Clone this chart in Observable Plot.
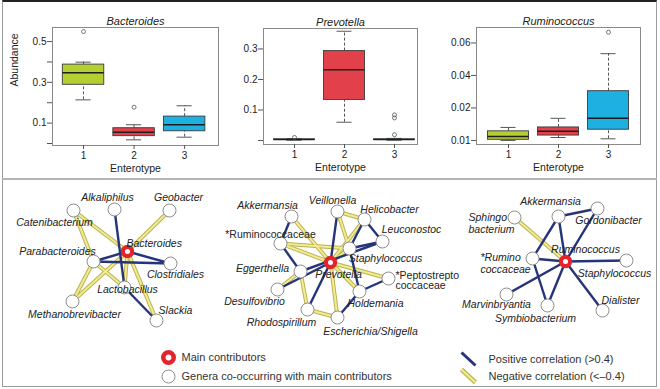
<!DOCTYPE html>
<html><head><meta charset="utf-8">
<script src="https://cdn.jsdelivr.net/npm/d3@7"></script>
<script src="https://cdn.jsdelivr.net/npm/@observablehq/plot@0.6"></script>
<style>
body{margin:0;background:#fff;}
#fig{position:relative;width:660px;height:389px;overflow:hidden;font-family:"Liberation Sans",Arial,Helvetica,sans-serif;background:#fff;}
.line{position:absolute;}
</style></head><body><div id="fig"></div>
<script>
// ---------- Box plot data ----------
const enterotypes = [1, 2, 3];
const enterotypeColors = ["#b4cf31", "#e2404a", "#1fb0e2"];

const bacteroidesLow    = [0.214, 0.018, 0.031];
const bacteroidesQ1     = [0.288, 0.036, 0.060];
const bacteroidesMedian = [0.347, 0.055, 0.092];
const bacteroidesQ3     = [0.387, 0.075, 0.132];
const bacteroidesHigh   = [0.399, 0.092, 0.185];
const bacteroidesOutliers = [[1, 0.549], [2, 0.178]];
const bacteroidesTicks = [0, 0.1, 0.2, 0.3, 0.4, 0.5];
const bacteroidesTickLabels = ["", "0.1", "", "0.3", "", "0.5"];

const prevotellaLow    = [0.001, 0.060, 0.001];
const prevotellaQ1     = [0.002, 0.133, 0.002];
const prevotellaMedian = [0.003, 0.232, 0.003];
const prevotellaQ3     = [0.004, 0.293, 0.004];
const prevotellaHigh   = [0.006, 0.358, 0.007];
const prevotellaOutliers = [[1, 0.010], [3, 0.084], [3, 0.074], [3, 0.019]];
const prevotellaTicks = [0, 0.1, 0.2, 0.3];
const prevotellaTickLabels = ["", "0.1", "0.2", "0.3"];

const ruminococcusLow    = [0.0100, 0.0109, 0.0105];
const ruminococcusQ1     = [0.0102, 0.0115, 0.0133];
const ruminococcusMedian = [0.0112, 0.0128, 0.0168];
const ruminococcusQ3     = [0.0128, 0.0140, 0.0303];
const ruminococcusHigh   = [0.0140, 0.0168, 0.0534];
const ruminococcusOutliers = [[3, 0.0666]];
const ruminococcusTicks = [0.01, 0.02, 0.04, 0.06];
const ruminococcusTickLabels = ["0.01", "0.02", "0.04", "0.06"];

// ---------- Network data (layout coordinates) ----------
const net1Nodes = [
  ["Bacteroides", 127, 71, "main"],
  ["Alkaliphilus", 114, 29], ["Geobacter", 169, 30], ["Catenibacterium", 73, 30],
  ["Parabacteroides", 93, 81], ["Clostridiales", 170, 83], ["Lactobacillus", 124, 107],
  ["Methanobrevibacter", 72, 121], ["Slackia", 156, 140]
];
const net1Edges = [
  ["Catenibacterium", "Bacteroides", "-"], ["Catenibacterium", "Parabacteroides", "-"],
  ["Geobacter", "Bacteroides", "-"], ["Alkaliphilus", "Lactobacillus", "+"],
  ["Bacteroides", "Parabacteroides", "+"], ["Bacteroides", "Clostridiales", "+"],
  ["Parabacteroides", "Clostridiales", "+"], ["Parabacteroides", "Lactobacillus", "-"],
  ["Methanobrevibacter", "Parabacteroides", "-"], ["Methanobrevibacter", "Bacteroides", "-"],
  ["Bacteroides", "Slackia", "-"], ["Bacteroides", "Lactobacillus", "-"],
  ["Lactobacillus", "Slackia", "+"]
];
const net1Labels = [
  ["Bacteroides", 126, 62, "start"], ["Alkaliphilus", 107, 17, "middle"],
  ["Geobacter", 178, 17, "middle"], ["Catenibacterium", 54, 42, "middle"],
  ["Parabacteroides", 57, 71, "middle"], ["Clostridiales", 175, 94, "middle"],
  ["Lactobacillus", 127, 109, "middle"], ["Methanobrevibacter", 74, 134, "middle"],
  ["Slackia", 175, 130, "middle"]
];

const net2Nodes = [
  ["Prevotella", 330, 82, "main"],
  ["Akkermansia", 291, 36], ["Veillonella", 337, 31], ["Helicobacter", 364, 39],
  ["Leuconostoc", 382, 61], ["*Ruminococcaceae", 280, 63], ["Staphylococcus", 349, 68],
  ["Eggerthella", 300, 91], ["*Peptostreptococcaceae", 388, 98], ["Desulfovibrio", 277, 109],
  ["Holdemania", 359, 111], ["Rhodospirillum", 307, 129], ["Escherichia/Shigella", 337, 137]
];
const net2Edges = [
  ["Akkermansia", "*Ruminococcaceae", "+"], ["Akkermansia", "Prevotella", "-"],
  ["Veillonella", "Prevotella", "+"], ["Veillonella", "Helicobacter", "-"],
  ["Veillonella", "Staphylococcus", "-"], ["Helicobacter", "Leuconostoc", "+"],
  ["Helicobacter", "Prevotella", "-"], ["Helicobacter", "Staphylococcus", "+"],
  ["Leuconostoc", "Staphylococcus", "+"], ["Leuconostoc", "Eggerthella", "+"],
  ["*Ruminococcaceae", "Prevotella", "-"], ["*Ruminococcaceae", "Staphylococcus", "-"],
  ["*Ruminococcaceae", "Eggerthella", "+"], ["Staphylococcus", "Prevotella", "-"],
  ["Staphylococcus", "Holdemania", "+"], ["Prevotella", "*Peptostreptococcaceae", "-"],
  ["*Peptostreptococcaceae", "Holdemania", "+"], ["Prevotella", "Holdemania", "-"],
  ["Prevotella", "Escherichia/Shigella", "-"], ["Prevotella", "Rhodospirillum", "+"],
  ["Eggerthella", "Desulfovibrio", "-"], ["Desulfovibrio", "Prevotella", "+"],
  ["Eggerthella", "Rhodospirillum", "-"], ["Rhodospirillum", "Escherichia/Shigella", "-"],
  ["Escherichia/Shigella", "Holdemania", "+"]
];
const net2Labels = [
  ["Prevotella", 338, 94, "middle"], ["Akkermansia", 267, 25, "middle"],
  ["Veillonella", 332, 20, "middle"], ["Helicobacter", 389, 29, "middle"],
  ["Leuconostoc", 411, 49, "middle"], ["*Ruminococcaceae", 270, 54, "middle", "upright"],
  ["Staphylococcus", 385, 78, "middle"], ["Eggerthella", 262, 88, "middle"],
  ["*Peptostrepto\ncoccaceae", 395, 100, "start", "upright"], ["Desulfovibrio", 254, 121, "middle"],
  ["Holdemania", 375, 123, "middle"], ["Rhodospirillum", 281, 142, "middle"],
  ["Escherichia/Shigella", 370, 151, "middle"]
];

const net3Nodes = [
  ["Ruminococcus", 565, 81, "main"],
  ["Sphingobacterium", 514, 37], ["Akkermansia", 558, 36], ["Gordonibacter", 597, 28],
  ["*Ruminococcaceae", 532, 78], ["Staphylococcus", 626, 80], ["Marvinbryantia", 506, 114],
  ["Symbiobacterium", 547, 125], ["Dialister", 602, 130]
];
const net3Edges = [
  ["Akkermansia", "Gordonibacter", "+"], ["Akkermansia", "*Ruminococcaceae", "+"],
  ["Akkermansia", "Ruminococcus", "+"], ["Gordonibacter", "Ruminococcus", "+"],
  ["*Ruminococcaceae", "Ruminococcus", "+"], ["*Ruminococcaceae", "Symbiobacterium", "+"],
  ["Ruminococcus", "Staphylococcus", "+"], ["Ruminococcus", "Marvinbryantia", "+"],
  ["Ruminococcus", "Symbiobacterium", "+"], ["Ruminococcus", "Dialister", "+"],
  ["Sphingobacterium", "Ruminococcus", "-"]
];
const net3Labels = [
  ["Ruminococcus", 585, 69, "middle"], ["Sphingo\nbacterium", 468, 42.5, "start"],
  ["Akkermansia", 550, 21, "middle"], ["Gordonibacter", 608, 40, "middle"],
  ["*Rumino\ncoccaceae", 480, 82.5, "start"], ["Staphylococcus", 614, 93, "middle"],
  ["Marvinbryantia", 496, 124, "middle"], ["Symbiobacterium", 535, 138, "middle"],
  ["Dialister", 620, 120, "middle"]
];

// legend
const legendSymbols = [["main", "Main contributors", 168, 177], ["other", "Genera co-occurring with main contributors", 168, 196]];
const legendLines = [["+", "Positive correlation (>0.4)", 461, 172, 475, 185], ["-", "Negative correlation (<\u20130.4)", 461, 189, 475, 202]];

// ---------- rendering ----------
const FONT = '"Liberation Sans", Arial, Helvetica, sans-serif';
const fig = document.getElementById("fig");
function place(node, left, top) {
  node.style.position = "absolute";
  node.style.left = left + "px";
  node.style.top = top + "px";
  fig.appendChild(node);
}
function addLine(css) {
  const d = document.createElement("div");
  d.className = "line";
  Object.assign(d.style, css);
  fig.appendChild(d);
}

function boxPanel(o) {
  const rows = enterotypes.map((e, i) => ({
    e, lo: o.lo[i], q1: o.q1[i], med: o.med[i], q3: o.q3[i], hi: o.hi[i], color: enterotypeColors[i]
  }));
  const outs = o.outliers.map(([e, v]) => ({e, v}));
  const tf = o.y.transform || (v => v);
  const tickPos = o.ticks.map(tf);
  const labelMap = new Map(tickPos.map((t, i) => [t, o.tickLabels[i]]));
  const bw = 0.41, cw = 0.15;
  const marks = [
    Plot.frame({stroke: "#8a8a8a", strokeWidth: 1}),
    Plot.ruleX(rows, {x: "e", y1: "lo", y2: "q1", stroke: "#444", strokeWidth: 0.9, strokeDasharray: "3,2"}),
    Plot.ruleX(rows, {x: "e", y1: "q3", y2: "hi", stroke: "#444", strokeWidth: 0.9, strokeDasharray: "3,2"}),
    Plot.ruleY(rows, {y: "lo", x1: d => d.e - cw, x2: d => d.e + cw, stroke: "#444", strokeWidth: 0.9}),
    Plot.ruleY(rows, {y: "hi", x1: d => d.e - cw, x2: d => d.e + cw, stroke: "#444", strokeWidth: 0.9}),
    Plot.rect(rows, {x1: d => d.e - bw, x2: d => d.e + bw, y1: "q1", y2: "q3", fill: "color", stroke: "#3a3a3a", strokeWidth: 0.9}),
    Plot.ruleY(rows, {y: "med", x1: d => d.e - bw, x2: d => d.e + bw, stroke: "#1e1e1e", strokeWidth: 1.5}),
    Plot.dot(outs, {x: "e", y: "v", r: 2, stroke: "#555", strokeWidth: 0.8, fill: "none"}),
    Plot.axisY({ticks: tickPos, tickFormat: d => labelMap.get(d), tickSize: 5, tickPadding: 1, label: null, fontSize: 10, stroke: "#555"}),
    Plot.axisX({ticks: enterotypes, tickFormat: d => String(d), tickSize: 4, tickPadding: 2, label: null, fontSize: 10, stroke: "#555"}),
    Plot.text([o.title], {frameAnchor: "top", dy: -10, fontStyle: "italic", fontSize: 11, fill: "#222"}),
    Plot.text(["Enterotype"], {frameAnchor: "bottom", dy: 26, fontSize: 10.5, fill: "#222"})
  ];
  if (o.yLabel) marks.push(Plot.text([o.yLabel], {frameAnchor: "left", dx: -38, rotate: -90, fontSize: 10.5, fill: "#222"}));
  const svg = Plot.plot({
    width: 220, height: 178,
    marginLeft: o.m[0], marginRight: o.m[1], marginTop: o.m[2], marginBottom: o.m[3],
    x: {type: "linear", domain: o.xDomain},
    y: o.y,
    color: {type: "identity"},
    style: {background: "transparent", fontFamily: FONT, color: "#222", overflow: "visible"},
    marks
  });
  return svg;
}

place(boxPanel({
  title: "Bacteroides", yLabel: "Abundance",
  lo: bacteroidesLow, q1: bacteroidesQ1, med: bacteroidesMedian, q3: bacteroidesQ3, hi: bacteroidesHigh,
  outliers: bacteroidesOutliers, ticks: bacteroidesTicks, tickLabels: bacteroidesTickLabels,
  m: [52, 2, 27, 33], xDomain: [0.386, 3.67], y: {domain: [-0.0098, 0.569]}
}), 0, 0);

place(boxPanel({
  title: "Prevotella",
  lo: prevotellaLow, q1: prevotellaQ1, med: prevotellaMedian, q3: prevotellaQ3, hi: prevotellaHigh,
  outliers: prevotellaOutliers, ticks: prevotellaTicks, tickLabels: prevotellaTickLabels,
  m: [43, 23, 28, 34], xDomain: [0.38, 3.46], y: {domain: [-0.013, 0.367]}
}), 220, 0);

// Ruminococcus axis is compressed below 0.02 (0.01–0.02 spans the same height as 0.02–0.04)
place(boxPanel({
  title: "Ruminococcus",
  lo: ruminococcusLow, q1: ruminococcusQ1, med: ruminococcusMedian, q3: ruminococcusQ3, hi: ruminococcusHigh,
  outliers: ruminococcusOutliers, ticks: ruminococcusTicks, tickLabels: ruminococcusTickLabels,
  m: [36, 20, 27, 34], xDomain: [0.36, 3.64],
  y: {type: "linear", domain: [-0.0025, 0.0695], transform: v => v < 0.02 ? 2 * (v - 0.01) : v}
}), 440, 0);

// networks
function edgeRows(nodes, edges) {
  const pos = new Map(nodes.map(([n, x, y]) => [n, {x, y}]));
  return edges.map(([a, b, s]) => ({x1: pos.get(a).x, y1: pos.get(a).y, x2: pos.get(b).x, y2: pos.get(b).y, sign: s}));
}
const allNodes = [...net1Nodes, ...net2Nodes, ...net3Nodes].map(([name, x, y, kind]) => ({name, x, y, kind: kind || "other"}));
const allEdges = [...edgeRows(net1Nodes, net1Edges), ...edgeRows(net2Nodes, net2Edges), ...edgeRows(net3Nodes, net3Edges)];
const allLabels = [...net1Labels, ...net2Labels, ...net3Labels].map(([text, x, y, anchor, style]) => ({text, x, y, anchor, style: style || "italic"}));
const negEdges = allEdges.filter(d => d.sign === "-");
const posEdges = allEdges.filter(d => d.sign === "+");
const legSym = legendSymbols.map(([kind, label, x, y]) => ({kind, label, x, y}));
const legLin = legendLines.map(([sign, label, x1, y1, x2, y2]) => ({sign, label, x1, y1, x2, y2}));

const NAVY = "#26347a", YEL_EDGE = "#bdb24e", YEL = "#f0ec94", RED = "#e3242b";
const labelMark = (filter, opts) => Plot.text(allLabels.filter(filter), {x: "x", y: "y", text: "text", fontSize: 10.5, fill: "#222", lineHeight: 1.05, ...opts});

const net = Plot.plot({
  width: 660, height: 209, margin: 0,
  x: {domain: [0, 660], axis: null},
  y: {domain: [0, 209], reverse: true, axis: null},
  style: {background: "transparent", fontFamily: FONT, overflow: "visible"},
  marks: [
    Plot.link(negEdges, {x1: "x1", y1: "y1", x2: "x2", y2: "y2", stroke: YEL_EDGE, strokeWidth: 4}),
    Plot.link(negEdges, {x1: "x1", y1: "y1", x2: "x2", y2: "y2", stroke: YEL, strokeWidth: 2}),
    Plot.link(posEdges, {x1: "x1", y1: "y1", x2: "x2", y2: "y2", stroke: NAVY, strokeWidth: 2.4}),
    Plot.dot(allNodes.filter(d => d.kind === "other"), {x: "x", y: "y", r: 6.5, fill: "white", stroke: "#8e8e8e", strokeWidth: 1}),
    Plot.dot(allNodes.filter(d => d.kind === "main"), {x: "x", y: "y", r: 4.6, fill: "white", stroke: RED, strokeWidth: 4.2}),
    labelMark(d => d.anchor === "middle" && d.style === "italic", {textAnchor: "middle", fontStyle: "italic"}),
    labelMark(d => d.anchor === "start" && d.style === "italic", {textAnchor: "start", fontStyle: "italic", lineHeight: 1.2}),
    labelMark(d => d.anchor === "middle" && d.style === "upright", {textAnchor: "middle"}),
    labelMark(d => d.anchor === "start" && d.style === "upright", {textAnchor: "start", lineHeight: 1.0}),
    // legend
    Plot.dot(legSym.filter(d => d.kind === "other"), {x: "x", y: "y", r: 6.5, fill: "white", stroke: "#8e8e8e", strokeWidth: 1}),
    Plot.dot(legSym.filter(d => d.kind === "main"), {x: "x", y: "y", r: 5.2, fill: "white", stroke: RED, strokeWidth: 4.6}),
    Plot.text(legSym, {x: "x", y: "y", text: "label", dx: 13, textAnchor: "start", fontSize: 11, fill: "#333"}),
    Plot.link(legLin.filter(d => d.sign === "-"), {x1: "x1", y1: "y1", x2: "x2", y2: "y2", stroke: YEL_EDGE, strokeWidth: 4.5}),
    Plot.link(legLin.filter(d => d.sign === "-"), {x1: "x1", y1: "y1", x2: "x2", y2: "y2", stroke: YEL, strokeWidth: 2.3}),
    Plot.link(legLin.filter(d => d.sign === "+"), {x1: "x1", y1: "y1", x2: "x2", y2: "y2", stroke: NAVY, strokeWidth: 3}),
    Plot.text(legLin, {x: "x2", y: d => (d.y1 + d.y2) / 2, text: "label", dx: 13, textAnchor: "start", fontSize: 11, fill: "#333"})
  ]
});
place(net, 0, 180);

// figure frame and separator
addLine({left: "2px", top: "0px", width: "655px", height: "387px", borderTop: "2px solid #222", borderLeft: "1px solid #9c9c9c", borderRight: "1px solid #9c9c9c", borderBottom: "1px solid #9c9c9c", boxSizing: "border-box", pointerEvents: "none"});
addLine({left: "2px", top: "178px", width: "655px", height: "0px", borderTop: "2px solid #b4b4b4"});
</script></body></html>
